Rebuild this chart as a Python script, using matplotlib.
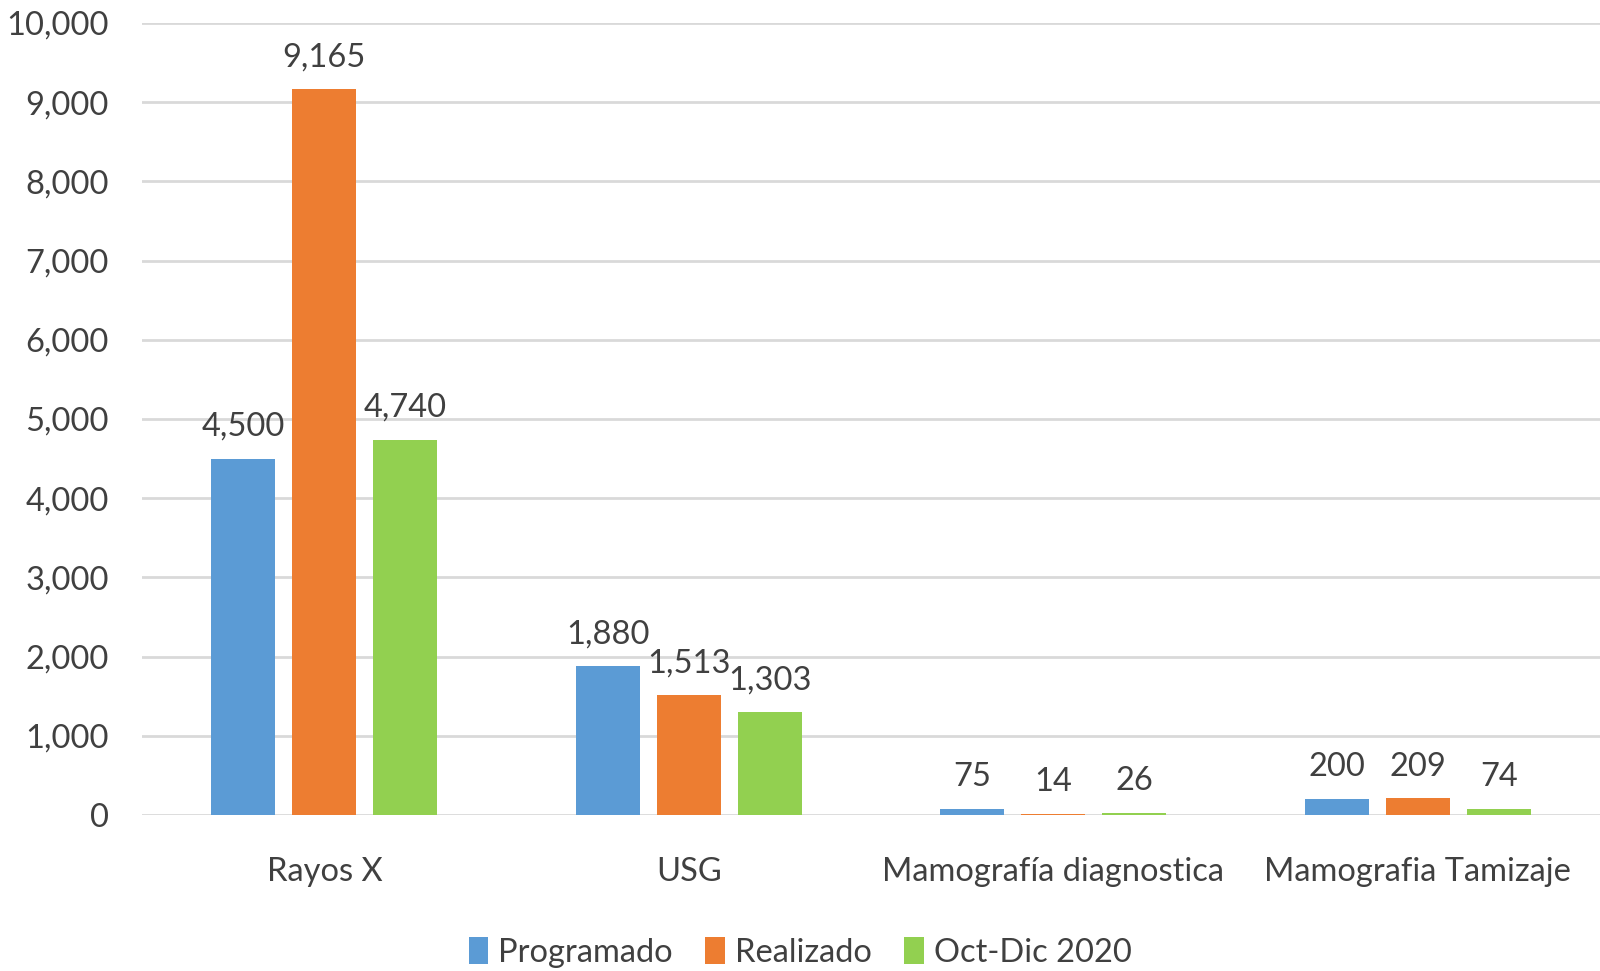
import matplotlib.pyplot as plt
import numpy as np

categories = ["Rayos X", "USG", "Mamografía diagnostica", "Mamografia Tamizaje"]
programado = [4500, 1880, 75, 200]
realizado = [9165, 1513, 14, 209]
oct_dic = [4740, 1303, 26, 74]
series_names = ["Programado", "Realizado", "Oct-Dic 2020"]
colors = ["#5b9bd5", "#ed7d31", "#92d050"]

plt.rcParams['font.family'] = ['Lato', 'DejaVu Sans']
txt = "#404040"
fs = 23.5

fig = plt.figure(figsize=(16, 9.71), dpi=100)
ax = fig.add_axes([0.0888, 0.1607, 0.9112, 0.8156])

x = np.arange(len(categories))
w = 0.176
step = 0.222
for i, (vals, name, c) in enumerate(zip([programado, realizado, oct_dic], series_names, colors)):
    pos = x + (i - 1) * step
    bars = ax.bar(pos, vals, width=w, color=c, label=name, zorder=3)
    for b, v in zip(bars, vals):
        ax.annotate(f"{v:,}", (b.get_x() + b.get_width() / 2, v), xytext=(0, 12),
                    textcoords="offset points", ha="center", va="bottom",
                    fontsize=fs, color=txt)

ax.set_xlim(-0.5, len(categories) - 0.5)
ax.set_ylim(0, 10000)
ax.set_yticks(range(0, 10001, 1000))
ax.set_yticklabels([f"{v:,}" for v in range(0, 10001, 1000)])
ax.set_xticks(x)
ax.set_xticklabels(categories)
ax.tick_params(axis='both', length=0, labelsize=fs, labelcolor=txt)
ax.tick_params(axis='y', pad=24)
ax.tick_params(axis='x', pad=30)
ax.grid(axis='y', color="#d9d9d9", linewidth=2, zorder=0)
for s in ax.spines.values():
    s.set_visible(False)

fig.legend(loc="lower center", bbox_to_anchor=(0.5, -0.027), ncol=3, frameon=False,
           fontsize=fs, labelcolor=txt, handlelength=0.6, handleheight=0.9,
           handletextpad=0.3, columnspacing=1.0)

fig.savefig("out.png", dpi=100)
